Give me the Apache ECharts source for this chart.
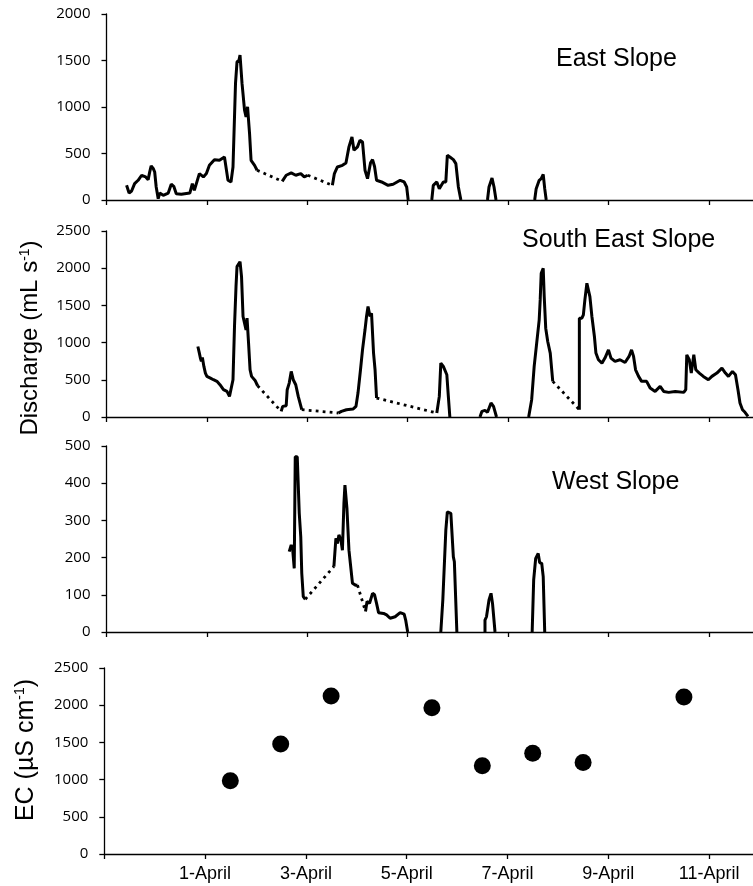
<!DOCTYPE html>
<html>
<head>
<meta charset="utf-8">
<script src="https://cdn.jsdelivr.net/npm/echarts@6/dist/echarts.min.js"></script>
<style>
  html, body { margin: 0; padding: 0; background: #fff; overflow: hidden; }
  #chart { width: 790px; height: 886px; }
</style>
</head>
<body>
<div id="chart"></div>
<script>
// Time axis: days since 30 March 00:00 (2 = 1 April, 12 = 11 April)
const dayLabels = ['', '1-April', '3-April', '5-April', '7-April', '9-April', '11-April'];

// Discharge (mL/s) — East Slope, continuous logger segments [day, value]
const eastSegments = [
  [[0.40,158],[0.45,75],[0.50,97],[0.56,176],[0.63,212],[0.70,266],[0.73,284],[0.78,248],[0.83,219],[0.86,300],[0.89,366],[0.93,340],[0.96,301],[0.99,140],[1.03,14],[1.06,75],[1.13,50],[1.23,75],[1.29,169],[1.34,147],[1.39,68],[1.49,61],[1.66,75],[1.71,176],[1.75,104],[1.85,284],[1.93,248],[1.99,284],[2.05,373],[2.15,434],[2.25,427],[2.35,463],[2.38,463],[2.42,212],[2.48,194],[2.52,355],[2.57,1253],[2.60,1486],[2.64,1504],[2.66,1558],[2.70,1253],[2.75,966],[2.78,894],[2.81,1002],[2.85,714],[2.88,427],[2.95,373],[3.00,320]],
  [[3.50,201],[3.58,266],[3.68,291],[3.77,266],[3.87,284],[3.94,248],[4.01,266]],
  [[4.50,158],[4.54,284],[4.60,355],[4.70,373],[4.77,398],[4.83,571],[4.89,678],[4.93,535],[5.00,571],[5.05,643],[5.10,625],[5.15,320],[5.20,230],[5.26,400],[5.30,434],[5.34,360],[5.38,212],[5.48,194],[5.61,158],[5.71,169],[5.85,212],[5.93,194],[5.98,140],[6.01,0]],
  [[6.48,0],[6.51,158],[6.58,194],[6.63,122],[6.71,194],[6.76,194],[6.79,481],[6.84,463],[6.91,434],[6.96,391],[7.01,140],[7.06,0]],
  [[7.59,0],[7.62,140],[7.68,237],[7.72,140],[7.76,0]],
  [[8.53,0],[8.56,122],[8.62,212],[8.66,230],[8.70,276],[8.73,122],[8.76,0]]
];
// pairs of segments joined by an interpolated (dotted) stretch
const eastBridges = [[0,1],[1,2]];

// Discharge (mL/s) — South East Slope
const southEastSegments = [
  [[1.82,948],[1.85,859],[1.87,792],[1.89,747],[1.91,800],[1.94,680],[1.97,590],[2.00,546],[2.07,523],[2.13,501],[2.20,479],[2.26,434],[2.33,367],[2.40,344],[2.45,277],[2.48,300],[2.52,501],[2.55,1216],[2.58,1753],[2.60,2021],[2.63,1999],[2.66,2088],[2.69,1887],[2.72,1351],[2.75,1261],[2.78,1172],[2.80,1328],[2.83,993],[2.86,635],[2.89,546],[2.96,492],[3.01,420]],
  [[3.48,76],[3.51,143],[3.58,152],[3.60,367],[3.64,456],[3.68,613],[3.72,501],[3.77,434],[3.82,277],[3.89,98]],
  [[4.62,54],[4.68,76],[4.78,98],[4.91,107],[4.97,143],[5.01,322],[5.06,635],[5.10,903],[5.15,1172],[5.18,1351],[5.21,1485],[5.25,1351],[5.28,1395],[5.32,859],[5.35,635],[5.38,255]],
  [[6.58,54],[6.61,45],[6.63,277],[6.66,724],[6.71,680],[6.78,568],[6.81,277],[6.84,0]],
  [[7.44,0],[7.48,76],[7.54,89],[7.59,63],[7.66,188],[7.71,143],[7.77,0]],
  [[8.41,0],[8.47,233],[8.52,680],[8.57,993],[8.62,1306],[8.64,1574],[8.66,1932],[8.70,1999],[8.72,1619],[8.75,1194],[8.79,1015],[8.84,859],[8.89,479]],
  [[9.42,98],[9.42,1328],[9.47,1328],[9.50,1373],[9.53,1574],[9.57,1798],[9.60,1820],[9.63,1619],[9.67,1351],[9.72,1082],[9.75,859],[9.80,769],[9.87,724],[9.93,792],[10.00,903],[10.05,792],[10.13,747],[10.23,769],[10.33,733],[10.41,814],[10.46,903],[10.50,814],[10.54,635],[10.60,546],[10.66,479],[10.76,479],[10.83,389],[10.93,344],[11.03,411],[11.10,344],[11.20,331],[11.33,344],[11.50,331],[11.54,367],[11.56,836],[11.61,769],[11.65,590],[11.70,836],[11.74,635],[11.81,590],[11.89,546],[11.99,501],[12.06,546],[12.16,590],[12.26,657],[12.33,590],[12.39,546],[12.47,613],[12.53,568],[12.58,367],[12.62,188],[12.67,98],[12.72,63],[12.78,9]]
];
const southEastBridges = [[0,1],[1,2],[2,3],[5,6]];

// Discharge (mL/s) — West Slope
const westSegments = [
  [[3.64,216],[3.68,234],[3.71,220],[3.74,171],[3.76,471],[3.80,471],[3.84,319],[3.87,256],[3.89,158],[3.92,95],[3.96,88]],
  [[4.53,176],[4.57,252],[4.60,238],[4.63,261],[4.67,247],[4.70,220],[4.73,346],[4.75,395],[4.79,332],[4.81,328],[4.83,220],[4.86,225],[4.90,131],[4.96,126],[5.00,126]],
  [[5.16,55],[5.19,82],[5.24,77],[5.30,104],[5.34,100],[5.38,77],[5.42,52],[5.52,50],[5.58,46],[5.65,37],[5.75,41],[5.85,52],[5.93,48],[5.96,32],[6.00,0]],
  [[6.66,0],[6.70,86],[6.76,274],[6.79,323],[6.82,319],[6.86,319],[6.91,202],[6.93,189],[6.96,194],[6.98,0]],
  [[7.54,0],[7.54,32],[7.57,41],[7.62,86],[7.66,104],[7.69,77],[7.74,0]],
  [[8.48,0],[8.51,140],[8.55,198],[8.60,211],[8.63,186],[8.67,185],[8.70,149],[8.73,0]]
];
const westBridges = [[0,1],[1,2]];

// Electrical conductivity samples (µS/cm), taken at midday
const ecDays = [2.5, 3.5, 4.5, 6.5, 7.5, 8.5, 9.5, 11.5];
const ecValues = [985, 1480, 2125, 1965, 1185, 1355, 1230, 2110];

const GAP = ['-', '-'];
function joinSegments(segs) {
  const out = [];
  segs.forEach((s, i) => { if (i) out.push(GAP); s.forEach(p => out.push(p)); });
  return out;
}
function bridgeLines(segs, bridges) {
  const out = [];
  bridges.forEach(([a, b], i) => {
    if (i) out.push(GAP);
    out.push(segs[a][segs[a].length - 1], segs[b][0]);
  });
  return out;
}

// the x axis runs on past the right edge of the page
const X_MAX = 13.2;
const AXIS_COLOR = '#000';
const panels = [
  { top: 14,  height: 186, left: 106.5, width: 662.6 },
  { top: 231, height: 186, left: 106.5, width: 662.6 },
  { top: 446, height: 186, left: 106.5, width: 662.6 },
  { top: 668, height: 186, left: 104.3, width: 665.3 }
];
const yRanges = [[2000, 500], [2500, 500], [500, 100], [2500, 500]];

function xAxisFor(i, showLabels) {
  return {
    type: 'value', gridIndex: i, min: 0, max: X_MAX, interval: 2,
    axisLine: { show: true, onZero: false, lineStyle: { color: AXIS_COLOR, width: 1.3 } },
    axisTick: { show: true, length: 5, lineStyle: { color: AXIS_COLOR, width: 1.3 } },
    axisLabel: {
      show: showLabels, color: '#000', fontFamily: 'Liberation Sans', fontSize: 18, margin: 11,
      formatter: v => dayLabels[v / 2] || ''
    },
    splitLine: { show: false }
  };
}
function yAxisFor(i) {
  const [max, interval] = yRanges[i];
  return {
    type: 'value', gridIndex: i, min: 0, max, interval,
    axisLine: { show: true, lineStyle: { color: AXIS_COLOR, width: 1.3 } },
    axisTick: { show: true, length: 5, lineStyle: { color: AXIS_COLOR, width: 1.3 } },
    axisLabel: { color: '#000', fontFamily: 'Open Sans', fontSize: 15, margin: 16, formatter: v => String(v) },
    splitLine: { show: false }
  };
}

const solidStyle = { color: '#000', width: 3 };
const dottedStyle = { color: '#000', width: 2.8, type: [2.8, 4.2] };
function flowSeries(idx, segs, bridges) {
  return [
    { type: 'line', xAxisIndex: idx, yAxisIndex: idx, data: joinSegments(segs),
      showSymbol: false, symbol: 'none', lineStyle: solidStyle, connectNulls: false },
    { type: 'line', xAxisIndex: idx, yAxisIndex: idx, data: bridgeLines(segs, bridges),
      showSymbol: false, symbol: 'none', lineStyle: dottedStyle, connectNulls: false }
  ];
}

const textFont = { fontFamily: 'Liberation Sans', fill: '#000' };
const supRich = { sup: { fontSize: 14, verticalAlign: 'top', fontFamily: 'Liberation Sans' } };
const option = {
  animation: false,
  backgroundColor: '#fff',
  grid: panels.map(p => ({ left: p.left, top: p.top, width: p.width, height: p.height })),
  xAxis: [xAxisFor(0, false), xAxisFor(1, false), xAxisFor(2, false), xAxisFor(3, true)],
  yAxis: [yAxisFor(0), yAxisFor(1), yAxisFor(2), yAxisFor(3)],
  series: [
    ...flowSeries(0, eastSegments, eastBridges),
    ...flowSeries(1, southEastSegments, southEastBridges),
    ...flowSeries(2, westSegments, westBridges),
    { type: 'scatter', xAxisIndex: 3, yAxisIndex: 3, symbolSize: 17,
      itemStyle: { color: '#000', opacity: 1 },
      data: ecDays.map((d, i) => [d, ecValues[i]]) }
  ],
  graphic: [
    { type: 'text', x: 556, y: 59, style: Object.assign({ text: 'East Slope', fontSize: 25, align: 'left', verticalAlign: 'middle' }, textFont) },
    { type: 'text', x: 522, y: 240, style: Object.assign({ text: 'South East Slope', fontSize: 25, align: 'left', verticalAlign: 'middle' }, textFont) },
    { type: 'text', x: 552, y: 482, style: Object.assign({ text: 'West Slope', fontSize: 25, align: 'left', verticalAlign: 'middle' }, textFont) },
    { type: 'text', x: 30, y: 338, rotation: Math.PI / 2,
      style: Object.assign({ text: 'Discharge (mL s{sup|-1})', fontSize: 24, align: 'center', verticalAlign: 'middle', rich: supRich }, textFont) },
    { type: 'text', x: 26, y: 750, rotation: Math.PI / 2,
      style: Object.assign({ text: 'EC (µS cm{sup|-1})', fontSize: 25, align: 'center', verticalAlign: 'middle', rich: supRich }, textFont) }
  ]
};

echarts.init(document.getElementById('chart'), null, { renderer: 'canvas' }).setOption(option);
</script>
</body>
</html>
